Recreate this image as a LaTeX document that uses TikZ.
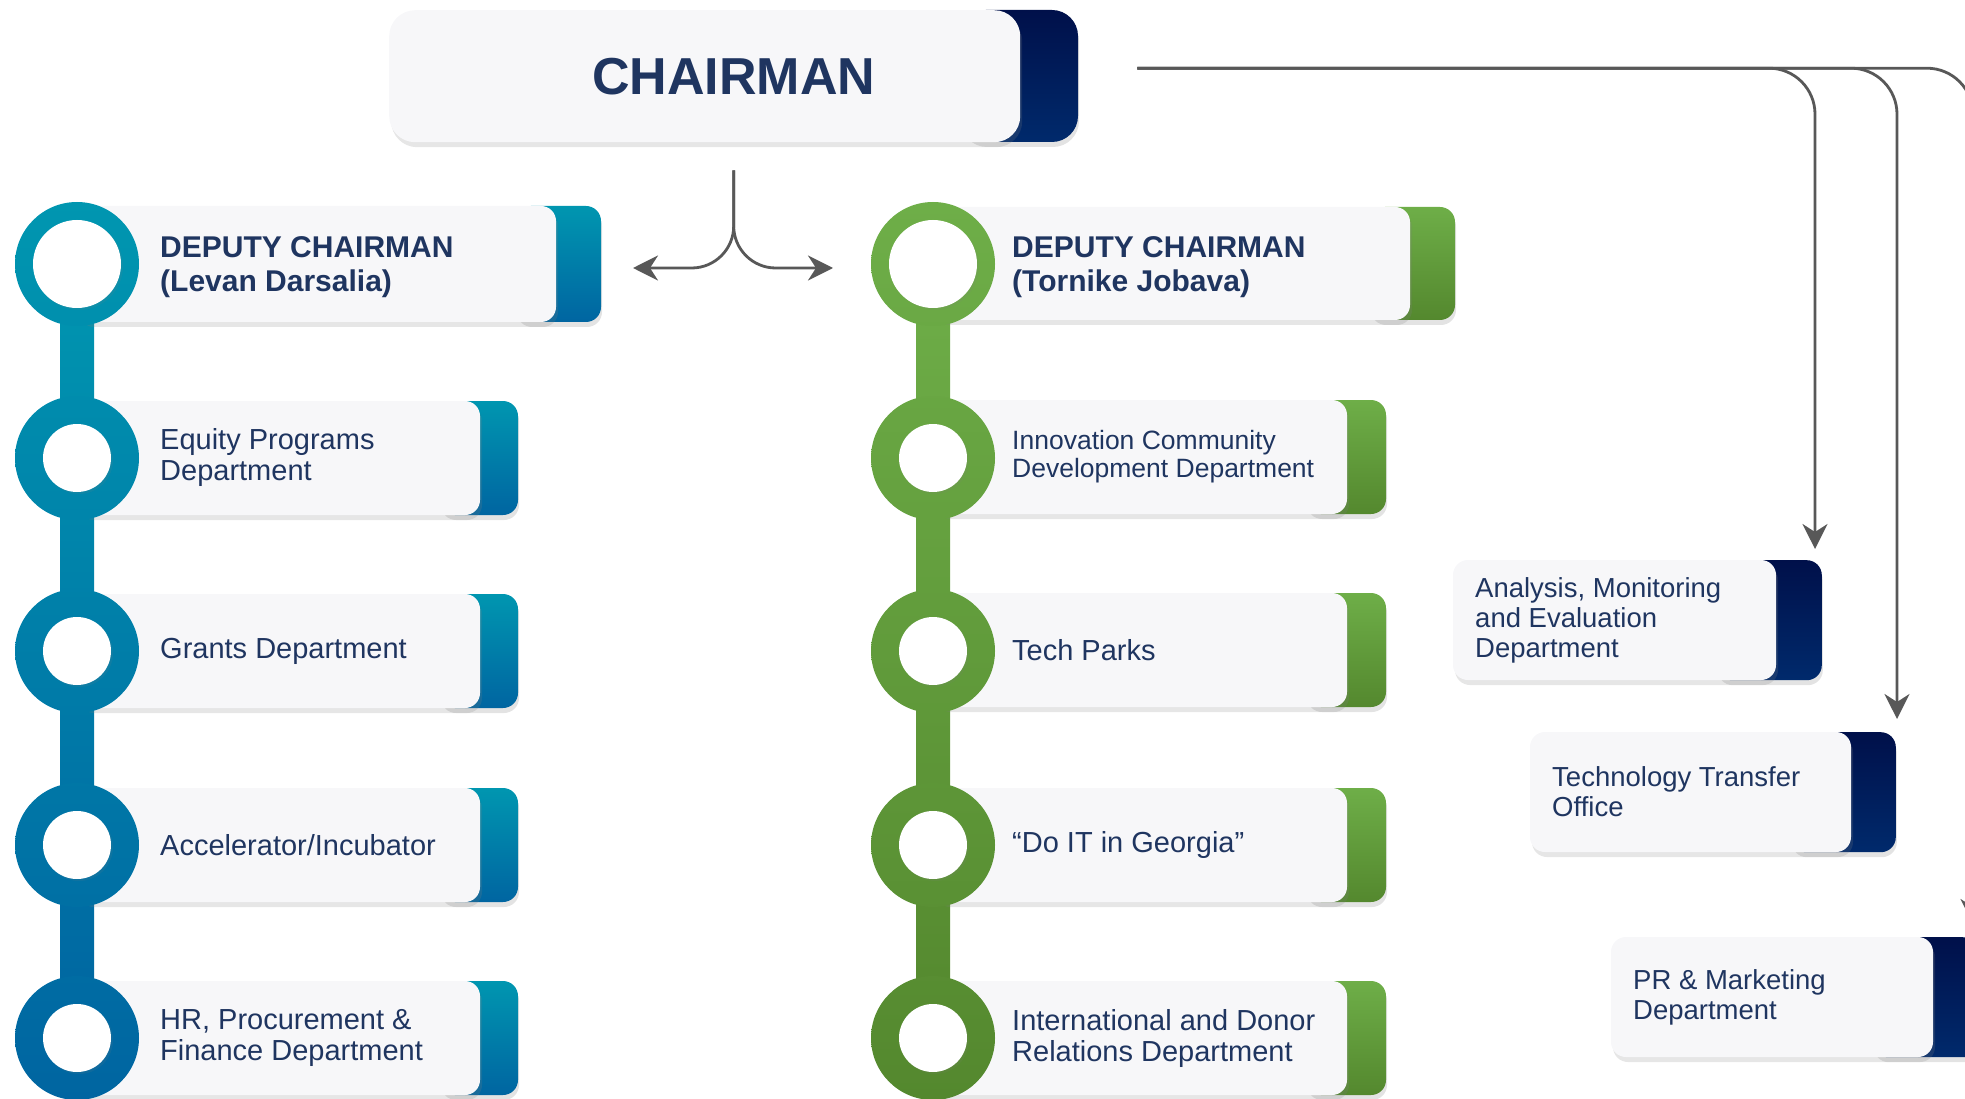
\documentclass[tikz,border=0pt]{standalone}
\usepackage{fontspec}
\setmainfont{Liberation Sans}
\usetikzlibrary{arrows.meta, positioning, shadows}
\pgfdeclarelayer{background}
\pgfsetlayers{background,main}

\definecolor{txtnavy}{RGB}{31,53,96}
\definecolor{boxgray}{RGB}{247,247,249}
\definecolor{linegray}{RGB}{88,88,88}
\definecolor{tealtop}{RGB}{0,150,176}
\definecolor{tealbot}{RGB}{0,101,161}
\definecolor{greentop}{RGB}{110,174,72}
\definecolor{greenbot}{RGB}{84,136,46}
\definecolor{navytop}{RGB}{0,16,74}
\definecolor{navybot}{RGB}{0,42,108}

\begin{document}
\begin{tikzpicture}[
x=1pt, y=-1pt,
 tabshade/.style = {rounded corners=15pt, drop shadow={opacity=0.22, shadow xshift=1pt, shadow yshift=-5pt}},
 lightbox/.style = {fill=boxgray, rounded corners=15pt, drop shadow={opacity=0.2, shadow xshift=2pt, shadow yshift=-5pt}},
  navytab/.style = {rectangle, tabshade, anchor=north east, minimum width=105pt, minimum height=120pt, inner sep=0pt, top color=navytop, bottom color=navybot},
     ring/.style = {circle, minimum size=124pt, inner sep=0pt},
     hole/.style = {circle, fill=white, inner sep=0pt, drop shadow={opacity=0.12, shadow xshift=2pt, shadow yshift=-2pt}},
    dtext/.style = {anchor=west, align=left, inner sep=0pt, text=txtnavy, font=\fontsize{29}{31}\selectfont},
  deptext/.style = {dtext, font=\bfseries\fontsize{30}{34}\selectfont},
    rtext/.style = {dtext, font=\fontsize{27.5}{30}\selectfont},
      pil/.style = {draw=linegray, line width=2.8pt, -{Stealth[length=25pt, width=25pt, inset=8pt]}}
                    ]
\useasboundingbox (0,0) rectangle (1965,1099);
\clip (0,0) rectangle (1965,1099);

%chairman
\path[tabshade, rounded corners=26pt, top color=navytop, bottom color=navybot] (960,10) rectangle (1078,142);
\node[lightbox, rounded corners=26pt, minimum width=631pt, minimum height=132pt, inner sep=0pt, anchor=north west] (chair) at (389,10) {};
\node[text=txtnavy, font=\bfseries\fontsize{52}{60}\selectfont] (chairtxt) at ([xshift=29pt]chair.center) {CHAIRMAN};
\coordinate (fork) at ([xshift=29pt, yshift=-28pt]chair.south);
\coordinate (bus) at ([xshift=117pt, yshift=8pt]chair.east);
\coordinate (forkl) at (633,268);
\coordinate (forkr) at (833,268);

%deputies
\path[tabshade, top color=tealtop, bottom color=tealbot] (516,206) rectangle (601,322);
\fill[lightbox] (77,206) rectangle (556,322);
\node[deptext] (ldep) at (160,267) {DEPUTY CHAIRMAN\\(Levan Darsalia)};

\path[tabshade, top color=greentop, bottom color=greenbot] (1370,207) rectangle (1455,320);
\fill[lightbox] (933,207) rectangle (1410,320);
\node[deptext] (gdep) at (1012,267) {DEPUTY CHAIRMAN\\(Tornike Jobava)};

%departments
\foreach \yy/\nm/\txt in {458/eqp/{Equity Programs\\Department}, 651/grd/{Grants Department},
  845/acc/{Accelerator/Incubator}, 1038/hrf/{HR, Procurement \&\\Finance Department}}{
  \path[tabshade, top color=tealtop, bottom color=tealbot] (440,\yy-57) rectangle (518,\yy+57);
  \fill[lightbox] (77,\yy-57) rectangle (480,\yy+57);
  \node[dtext] (\nm) at (160,\yy) {\txt};
}
\foreach \yy/\nm/\fsz/\bsk/\txt in {457/icd/26.5/28/{Innovation Community\\Development Department},
  650/tpk/29/31/{Tech Parks}, 845/dig/29/31/{“Do IT in Georgia”},
  1038/idr/29/31/{International and Donor\\Relations Department}}{
  \path[tabshade, top color=greentop, bottom color=greenbot] (1306,\yy-57) rectangle (1386,\yy+57);
  \fill[lightbox] (933,\yy-57) rectangle (1347,\yy+57);
  \node[dtext, font=\fontsize{\fsz}{\bsk}\selectfont] (\nm) at (1012,\yy) {\txt};
}
\foreach \xl/\xr/\xt/\yy/\nm/\txt in {1453/1776/1822/620/ame/{Analysis, Monitoring\\and Evaluation\\Department},
  1530/1851/1896/792/tto/{Technology Transfer\\Office}, 1611/1933/1978/997/prm/{PR \& Marketing\\Department}}{
  \node[navytab] (\nm) at (\xt,\yy-60) {};
  \fill[lightbox] (\xl,\yy-60) rectangle (\xr,\yy+60);
  \node[rtext] (t\nm) at (\xl+22,\yy) {\txt};
}

%rings
\foreach \i/\yy in {1/264, 2/458, 3/651, 4/845, 5/1038}{
  \pgfmathtruncatemacro{\ptop}{21.6*(\i-1)}
  \pgfmathtruncatemacro{\pbot}{\ptop+14}
  \node[ring, top color=tealbot!\ptop!tealtop, bottom color=tealbot!\pbot!tealtop] (lc\i) at (77,\yy) {};
  \node[ring, top color=greenbot!\ptop!greentop, bottom color=greenbot!\pbot!greentop] (gc\i) at (933,\yy) {};
}
\node[hole, minimum size=88pt] (lh1) at (lc1) {};
\node[hole, minimum size=88pt] (gh1) at (gc1) {};
\foreach \i in {2,...,5}{
  \node[hole, minimum size=68pt] (lh\i) at (lc\i) {};
  \node[hole, minimum size=68pt] (gh\i) at (gc\i) {};
}
\begin{pgfonlayer}{background}
\shade[top color=tealtop, bottom color=tealbot] ([xshift=-17pt]lc1.center) rectangle ([xshift=17pt]lc5.center);
\shade[top color=greentop, bottom color=greenbot] ([xshift=-17pt]gc1.center) rectangle ([xshift=17pt]gc5.center);
\end{pgfonlayer}

% edges
\draw[pil, rounded corners=42pt] (fork) |- (forkl);
\draw[pil, rounded corners=42pt] (fork) |- (forkr);
\draw[pil, rounded corners=46pt] (bus) -| ([xshift=-7pt, yshift=11pt]ame.north east);
\draw[pil, rounded corners=46pt] (bus) -| ([xshift=1pt, yshift=13pt]tto.north east);
\draw[pil, rounded corners=46pt] (bus) -| ([xshift=-5pt, yshift=13pt]prm.north east);
\end{tikzpicture}
\end{document}
